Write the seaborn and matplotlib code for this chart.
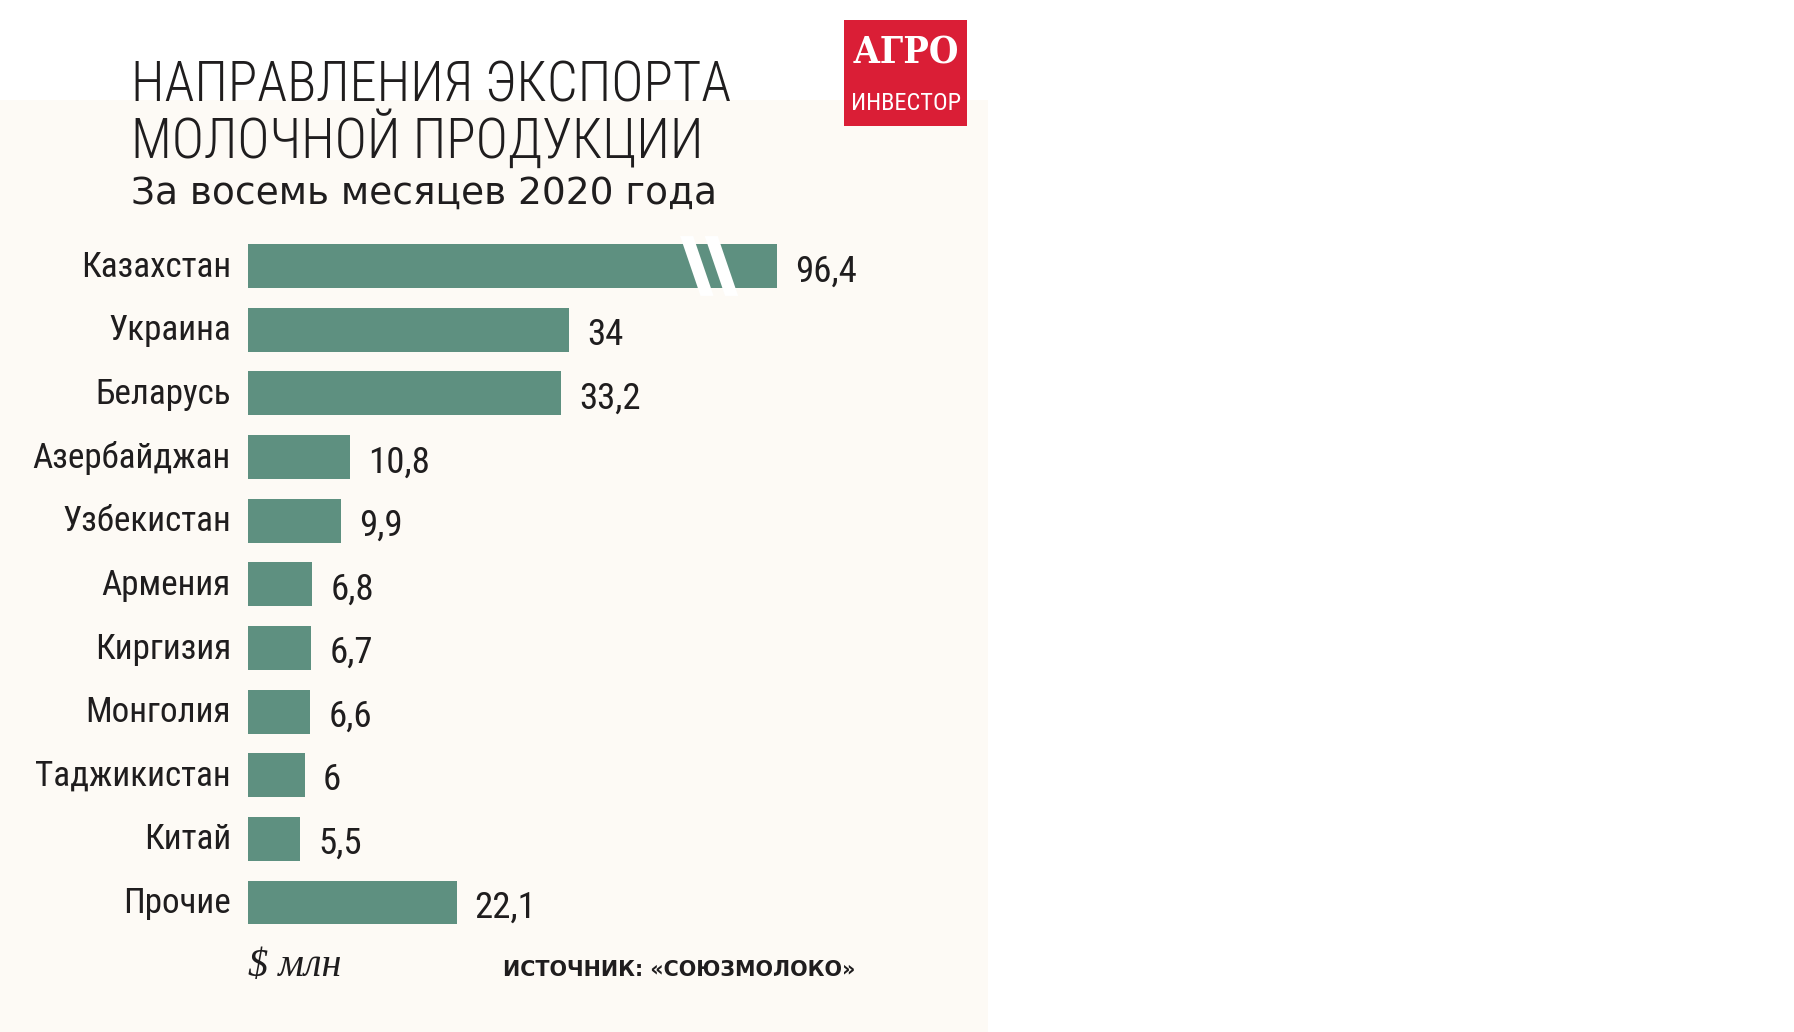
import os
import numpy as np
import pandas as pd
import matplotlib
matplotlib.use("Agg")
import matplotlib.pyplot as plt
import matplotlib.transforms as mtransforms
from matplotlib import font_manager as fm
from matplotlib.patches import Rectangle, Polygon
import seaborn as sns

# ---------------- data ----------------
categories = ["Казахстан", "Украина", "Беларусь", "Азербайджан", "Узбекистан",
              "Армения", "Киргизия", "Монголия", "Таджикистан", "Китай", "Прочие"]
values = [96.4, 34, 33.2, 10.8, 9.9, 6.8, 6.7, 6.6, 6.0, 5.5, 22.1]
title_lines = ["НАПРАВЛЕНИЯ ЭКСПОРТА", "МОЛОЧНОЙ ПРОДУКЦИИ"]
subtitle = "За восемь месяцев 2020 года"
unit_label = "$ млн"
source_label = "ИСТОЧНИК: «СОЮЗМОЛОКО»"
logo_lines = ["АГРО", "ИНВЕСТОР"]
break_value = 56.0   # the long bar is drawn cut (scale break) at this length

# ---------------- style ----------------
W, H, DPI = 1794, 1032, 100
GREEN = "#5E9080"
INK = "#1F1D1E"
RED = "#DA1E36"
CREAM = "#FDFAF5"

sns.set_theme(style="white")
plt.rcParams['font.family'] = ['DejaVu Sans']

_lookup = {os.path.basename(f.fname).lower(): f.fname for f in fm.fontManager.ttflist}


def find_font(files, fallback):
    for name in files:
        p = _lookup.get(name.lower())
        if p:
            return fm.FontProperties(fname=p)
    return fallback


fp_cond = find_font(['LiberationSansNarrow-Regular.ttf', 'NotoSans-Condensed.ttf',
                     'RobotoCondensed-Regular.ttf', 'DejaVuSansCondensed.ttf',
                     'NotoSans-SemiCondensed.ttf', 'LiberationSans-Regular.ttf'],
                    fm.FontProperties(family='DejaVu Sans'))
fp_light = find_font(['NotoSans-CondensedLight.ttf', 'NotoSans-ExtraCondensedLight.ttf',
                      'NotoSans-SemiCondensedLight.ttf', 'RobotoCondensed-Light.ttf',
                      'LiberationSansNarrow-Regular.ttf', 'Roboto-Light.ttf',
                      'OpenSans-Light.ttf', 'Lato-Light.ttf'],
                     fm.FontProperties(family='DejaVu Sans'))
fp_xcond = find_font(['NotoSans-ExtraCondensed.ttf', 'NotoSans-ExtraCondensedMedium.ttf',
                      'RobotoCondensed-Regular.ttf', 'LiberationSansNarrow-Regular.ttf',
                      'NotoSans-Condensed.ttf'], fp_cond)
fp_wide = find_font(['DejaVuSans.ttf'], fm.FontProperties(family='DejaVu Sans'))
fp_bold = find_font(['DejaVuSans-Bold.ttf'], fm.FontProperties(family='DejaVu Sans', weight='bold'))
fp_serif_bold = find_font(['NotoSerif-ExtraCondensedBold.ttf', 'NotoSerif-CondensedBold.ttf',
                           'DejaVuSerifCondensed-Bold.ttf', 'DejaVuSerif-Bold.ttf',
                           'LiberationSerif-Bold.ttf'],
                          fm.FontProperties(family='DejaVu Serif', weight='bold'))
fp_italic = find_font(['LiberationSerif-Italic.ttf', 'DejaVuSerif-Italic.ttf'],
                      fm.FontProperties(family='DejaVu Serif', style='italic'))

fig = plt.figure(figsize=(W / DPI, H / DPI), dpi=DPI)
fig.patch.set_facecolor("white")
renderer = fig.canvas.get_renderer()

# cream panel behind the chart
fig.patches.append(Rectangle((0, 0), 988 / W, 1 - 100 / H, transform=fig.transFigure,
                             facecolor=CREAM, edgecolor="none", zorder=-10))

# ---------------- axes ----------------
row_h = 63.65          # px per category row
x_px_per_unit = 9.44
ax_left_px, ax_top_px = 248, 266 - 0.5 * row_h
ax_w_px = 100 * x_px_per_unit
ax_h_px = 11 * row_h
ax = fig.add_axes([ax_left_px / W, 1 - (ax_top_px + ax_h_px) / H, ax_w_px / W, ax_h_px / H])
ax.set_facecolor("none")
ax.set_zorder(2)

df = pd.DataFrame({"country": categories, "value": values})
df["shown"] = np.minimum(df["value"], break_value)

sns.barplot(data=df, x="shown", y="country", order=categories, orient="h",
            color=GREEN, saturation=1, width=0.69, errorbar=None, linewidth=0, ax=ax)

ax.set_xlim(0, 100)
ax.set_ylim(len(categories) - 0.5, -0.5)
ax.set_xlabel("")
ax.set_ylabel("")
ax.set_xticks([])
ax.set_yticks([])
for s in ax.spines.values():
    s.set_visible(False)


def fit(t, max_w, cap):
    t.set_fontsize(cap)
    w = t.get_window_extent(renderer=renderer).width
    if w > max_w:
        t.set_fontsize(cap * max_w / w)
    return t.get_fontsize()


# category labels size: widest label "Азербайджан" is ~198 px
probe = fig.text(0, 0, max(categories, key=len), fontproperties=fp_cond)
cat_size = fit(probe, 198, 27)
probe.remove()
probe = fig.text(0, 0, "96,4", fontproperties=fp_cond)
val_size = fit(probe, 62, 29)
probe.remove()

blend = mtransforms.blended_transform_factory(ax.transAxes, ax.transData)
for i, (cat, v, sv) in enumerate(zip(categories, df["value"], df["shown"])):
    tr = mtransforms.offset_copy(blend, fig=fig, x=-17, y=-(cat_size / 2 - 2), units="dots")
    ax.text(0, i, cat, transform=tr, ha="right", va="baseline", clip_on=False,
            fontproperties=fp_cond, fontsize=cat_size, color=INK)
    lbl = f"{v:g}".replace(".", ",")
    tr2 = mtransforms.offset_copy(ax.transData, fig=fig, x=18, y=-(val_size / 2 + 2), units="dots")
    ax.text(sv, i, lbl, transform=tr2, ha="left", va="baseline", clip_on=False,
            fontproperties=fp_cond, fontsize=val_size, color=INK)

# scale-break stripes on the cut bar
for i, v in enumerate(values):
    if v > break_value:
        for xc in (break_value - 8.45, break_value - 5.85):
            half, slope, ext = 0.69, 2.3, 0.47
            poly = [(xc - half - slope * ext, i - ext), (xc + half - slope * ext, i - ext),
                    (xc + half + slope * ext, i + ext), (xc - half + slope * ext, i + ext)]
            ax.add_patch(Polygon(poly, closed=True, facecolor="white", edgecolor="none",
                                 zorder=5, clip_on=False))


def ftext(x, y, s, **kw):
    return fig.text(x / W, 1 - y / H, s, **kw)


# ---------------- titles ----------------
t1 = ftext(131, 101, title_lines[0], fontproperties=fp_light, color=INK, va="baseline")
tsize = fit(t1, 601, 43)
ftext(131, 158, title_lines[1], fontproperties=fp_light, fontsize=tsize, color=INK, va="baseline")
ts = ftext(131, 204, subtitle, fontproperties=fp_wide, color=INK, va="baseline")
fit(ts, 679, 27)

# ---------------- footer ----------------
tu = ftext(248, 976, unit_label, fontproperties=fp_italic, color=INK, va="baseline")
fit(tu, 100, 29)
tsrc = ftext(503, 976, source_label, fontproperties=fp_bold, color=INK, va="baseline")
fit(tsrc, 353, 15)

# ---------------- logo ----------------
fig.patches.append(Rectangle((844 / W, 1 - 126 / H), 123 / W, 106 / H, transform=fig.transFigure,
                             facecolor=RED, edgecolor="none", zorder=1))
la = ftext(906, 63, logo_lines[0], fontproperties=fp_serif_bold, color="white",
           ha="center", va="baseline", zorder=3)
fit(la, 106, 31)
lb = ftext(906, 110, logo_lines[1], fontproperties=fp_xcond, color="white",
           ha="center", va="baseline", zorder=3)
fit(lb, 110, 37)

fig.savefig("out.png", dpi=DPI, facecolor=fig.get_facecolor())
